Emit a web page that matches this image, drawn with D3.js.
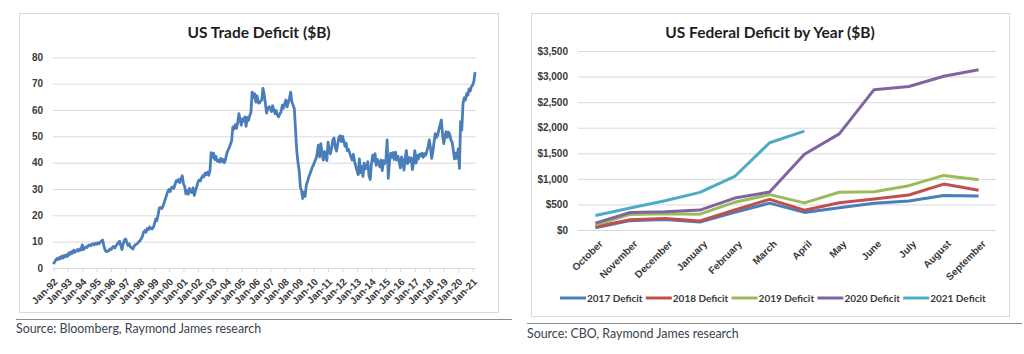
<!DOCTYPE html>
<html lang="en">
<head>
  <meta charset="UTF-8">
  <title>US Trade Deficit and Federal Deficit</title>
  <style>
    body, html {
      margin: 0;
      padding: 0;
      background: #fff;
      font-family: Lato, "Open Sans", Arial, sans-serif;
    }
    #svg { display: block; }
    .tick line { stroke: #d9d9d9; }
    .tick text { font-weight: bold; font-size: 10px; fill: #3a3a3a; }
  </style>
</head>
<body>
  <svg id="svg" width="1024" height="354"></svg>

  <script src="https://cdn.jsdelivr.net/npm/d3@7"></script>
  <script>
    // --- Left chart data: monthly trade deficit ($B), Jan 1992 .. Mar 2021
    const tradeStart = new Date(1992, 0, 1)
    const tradeDeficit = [
      1.5, 2.2, 3.0, 3.6, 3.2, 4.0, 3.5, 4.5, 3.8, 4.8, 4.2, 5.0,        // 1992
      4.5, 5.8, 5.2, 6.2, 5.6, 6.8, 6.0, 6.5, 7.0, 6.4, 7.2, 6.8,        // 1993
      8.8, 7.0, 7.5, 8.0, 7.8, 8.5, 8.8, 8.4, 9.0, 9.2, 8.8, 9.4,        // 1994
      9.0, 9.6, 9.2, 9.8, 10.2, 10.6, 8.5, 6.8, 6.2, 6.4, 6.6, 7.2,      // 1995
      7.0, 7.8, 8.2, 7.6, 8.4, 9.0, 9.6, 10.2, 8.6, 7.0, 9.2, 10.6,      // 1996
      11.0, 9.6, 8.6, 9.2, 8.0, 7.6, 7.2, 8.2, 8.8, 9.0, 9.4, 10.0,      // 1997
      10.4, 11.2, 12.0, 13.6, 14.2, 13.6, 15.0, 14.6, 15.6, 15.0, 14.8, 15.4, // 1998
      16.8, 18.6, 18.0, 20.2, 22.8, 23.0, 22.6, 23.4, 24.8, 26.2, 27.6, 29.0, // 1999
      29.8, 29.0, 30.4, 30.8, 30.2, 31.6, 33.2, 32.8, 33.6, 32.4, 34.0, 35.0, // 2000
      32.0, 31.0, 28.2, 29.4, 28.0, 30.2, 29.0, 28.6, 30.4, 27.6, 29.4, 30.8, // 2001
      32.6, 33.4, 33.0, 34.2, 35.0, 34.6, 36.0, 35.4, 36.4, 35.2, 37.0, 43.8, // 2002
      42.0, 43.6, 41.2, 42.4, 40.6, 41.0, 40.2, 41.6, 40.4, 41.2, 40.0, 41.4, // 2003
      43.6, 44.8, 45.6, 47.0, 48.2, 53.6, 52.8, 54.4, 53.0, 55.2, 58.6, 56.4, // 2004
      54.2, 56.6, 55.8, 57.4, 53.8, 57.2, 56.0, 57.8, 59.0, 66.8, 64.6, 66.2, // 2005
      63.0, 65.4, 62.8, 62.6, 63.4, 63.8, 68.2, 66.0, 62.4, 58.8, 60.4, 61.2, // 2006
      60.8, 59.4, 61.6, 60.2, 58.6, 59.8, 58.0, 57.4, 58.6, 59.2, 61.8, 60.6, // 2007
      62.4, 63.8, 61.2, 62.8, 64.4, 66.8, 63.0, 61.8, 60.6, 52.4, 44.6, 40.2, // 2008
      37.0, 30.6, 29.4, 26.4, 28.8, 27.2, 31.6, 32.8, 34.6, 35.8, 37.0, 38.4, // 2009
      39.2, 40.6, 41.4, 43.6, 46.6, 42.2, 47.2, 43.8, 41.0, 44.2, 42.6, 40.8, // 2010
      47.8, 44.6, 43.4, 45.6, 48.6, 49.4, 46.0, 44.4, 47.0, 49.6, 50.2, 48.0, // 2011
      50.0, 48.4, 46.2, 47.4, 44.6, 45.0, 43.6, 42.2, 41.0, 43.2, 40.4, 38.6, // 2012
      37.0, 35.4, 41.4, 36.2, 38.6, 34.8, 39.8, 37.6, 38.2, 40.4, 35.0, 33.6, // 2013
      39.6, 42.8, 40.6, 43.4, 39.0, 41.2, 40.0, 38.4, 41.0, 37.0, 40.8, 39.6, // 2014
      41.2, 48.6, 34.0, 40.2, 43.6, 42.0, 43.8, 41.2, 44.0, 41.0, 42.4, 40.6, // 2015
      38.0, 42.2, 40.8, 37.2, 41.6, 44.6, 39.6, 42.0, 40.4, 41.8, 37.4, 40.2, // 2016
      44.6, 39.8, 42.8, 41.4, 43.2, 42.6, 43.6, 42.0, 43.4, 42.8, 44.4, 46.0, // 2017
      48.6, 45.6, 41.6, 44.2, 47.8, 51.0, 49.6, 50.4, 52.6, 54.4, 56.2, 50.8, // 2018
      47.2, 50.2, 51.8, 49.6, 51.6, 50.8, 48.6, 47.8, 44.6, 41.4, 43.6, 41.6, // 2019
      45.2, 37.8, 55.6, 52.4, 62.4, 64.6, 63.8, 66.2, 65.6, 68.0, 67.2, 69.0, // 2020
      69.4, 71.0, 74.4                                                   // 2021
    ]
    const tradeYTicks = [0, 10, 20, 30, 40, 50, 60, 70, 80]

    // --- Right chart data: cumulative federal deficit by fiscal month ($B)
    const fiscalMonths = ['October', 'November', 'December', 'January', 'February', 'March',
      'April', 'May', 'June', 'July', 'August', 'September']
    const deficit2017 = [45, 183, 206, 155, 348, 525, 344, 433, 523, 566, 674, 666]
    const deficit2018 = [63, 202, 225, 176, 391, 600, 386, 532, 607, 684, 898, 779]
    const deficit2019 = [100, 305, 319, 310, 544, 691, 531, 738, 747, 867, 1067, 984]
    const deficit2020 = [134, 343, 357, 389, 624, 743, 1481, 1880, 2744, 2807, 3007, 3132]
    const deficit2021 = [284, 429, 573, 736, 1047, 1706, 1932]
    const seriesNames = ['2017 Deficit', '2018 Deficit', '2019 Deficit', '2020 Deficit', '2021 Deficit']
    const seriesColors = ['#4a7ebb', '#c0504d', '#9bbb59', '#8064a2', '#4bacc6']
    const fedYTicks = [0, 500, 1000, 1500, 2000, 2500, 3000, 3500]

    const svg = d3.select('#svg')

    // ================= Left: US Trade Deficit =================
    const left = svg.append('g')

    left.append('rect')
      .attr('x', 19.5).attr('y', 13.5)
      .attr('width', 479).attr('height', 299)
      .attr('fill', '#fff').attr('stroke', '#d9d9d9')

    left.append('text')
      .text('US Trade Deficit ($B)')
      .attr('x', 259).attr('y', 38)
      .attr('text-anchor', 'middle')
      .attr('font-size', 15.5).attr('font-weight', 'bold').attr('fill', '#1e1e1e')

    const tradeData = tradeDeficit.map((v, i) => ({ date: d3.timeMonth.offset(tradeStart, i), value: v }))

    const xTrade = d3.scaleTime()
      .domain([tradeStart, new Date(2021, 0, 1)])
      .range([53.3, 472.7])
    const yTrade = d3.scaleLinear().domain([0, 80]).range([268, 57.3])

    // gridlines + y labels
    left.append('g')
      .attr('transform', 'translate(53,0)')
      .call(d3.axisLeft(yTrade).tickValues(tradeYTicks).tickSize(-423).tickPadding(10))
      .call(g => g.select('.domain').remove())

    // x axis with yearly ticks
    left.append('g')
      .attr('transform', 'translate(0,268)')
      .call(d3.axisBottom(xTrade)
        .ticks(d3.timeYear.every(1))
        .tickFormat(d3.timeFormat('%b-%y'))
        .tickSize(4))
      .call(g => g.select('.domain').remove())
      .call(g => g.selectAll('text')
        .attr('x', 0).attr('y', 0).attr('dy', '0.35em')
        .attr('font-size', 9)
        .attr('text-anchor', 'end')
        .attr('transform', 'translate(2,12) rotate(-45)'))

    left.append('path')
      .datum(tradeData)
      .attr('fill', 'none')
      .attr('stroke', '#4a7ebb')
      .attr('stroke-width', 2.8)
      .attr('stroke-linejoin', 'round')
      .attr('d', d3.line().x(d => xTrade(d.date)).y(d => yTrade(d.value)))

    // ================= Right: US Federal Deficit =================
    const right = svg.append('g')

    right.append('rect')
      .attr('x', 531.5).attr('y', 13.5)
      .attr('width', 478).attr('height', 303)
      .attr('fill', '#fff').attr('stroke', '#d9d9d9')

    right.append('text')
      .text('US Federal Deficit by Year ($B)')
      .attr('x', 770).attr('y', 38)
      .attr('text-anchor', 'middle')
      .attr('font-size', 15.5).attr('font-weight', 'bold').attr('fill', '#1e1e1e')

    const xFed = d3.scalePoint().domain(fiscalMonths).range([578, 996]).padding(0.5)
    const yFed = d3.scaleLinear().domain([0, 3500]).range([230, 51])

    right.append('g')
      .attr('transform', 'translate(578,0)')
      .call(d3.axisLeft(yFed).tickValues(fedYTicks).tickSize(-418).tickPadding(10)
        .tickFormat(d3.format('$,')))
      .call(g => g.select('.domain').remove())

    right.append('g')
      .attr('transform', 'translate(0,230)')
      .call(d3.axisBottom(xFed).tickSize(0))
      .call(g => g.select('.domain').remove())
      .call(g => g.selectAll('text')
        .attr('x', 0).attr('y', 0).attr('dy', '0.35em')
        .attr('text-anchor', 'end')
        .attr('transform', 'translate(5,12) rotate(-45)'))

    const fedSeries = [deficit2017, deficit2018, deficit2019, deficit2020, deficit2021]
    const fedLine = d3.line()
      .x((d, i) => xFed(fiscalMonths[i]))
      .y(d => yFed(d))

    right.selectAll('path.series')
      .data(fedSeries)
      .enter()
      .append('path')
      .attr('class', 'series')
      .attr('fill', 'none')
      .attr('stroke', (d, i) => seriesColors[i])
      .attr('stroke-width', 3)
      .attr('stroke-linejoin', 'round')
      .attr('d', fedLine)

    // legend
    const legend = right.append('g').attr('transform', 'translate(560,298)')
    const items = legend.selectAll('g')
      .data(seriesNames)
      .enter()
      .append('g')
      .attr('transform', (d, i) => `translate(${i * 85.8},0)`)
    items.append('line')
      .attr('x1', 0).attr('x2', 26)
      .attr('stroke', (d, i) => seriesColors[i])
      .attr('stroke-width', 3)
    items.append('text')
      .text(d => d)
      .attr('x', 27).attr('dy', '0.35em')
      .attr('font-size', 10).attr('font-weight', 'bold').attr('fill', '#3a3a3a')

    // ================= separators and sources =================
    svg.append('line')
      .attr('x1', 16).attr('x2', 512).attr('y1', 319.5).attr('y2', 319.5)
      .attr('stroke', '#8c8c8c')
    svg.append('text')
      .text('Source: Bloomberg, Raymond James research')
      .attr('x', 16).attr('y', 333)
      .attr('font-size', 12.4).attr('fill', '#37424f')

    svg.append('line')
      .attr('x1', 527).attr('x2', 1022).attr('y1', 323.5).attr('y2', 323.5)
      .attr('stroke', '#8c8c8c')
    svg.append('text')
      .text('Source: CBO, Raymond James research')
      .attr('x', 527).attr('y', 338)
      .attr('font-size', 12.4).attr('fill', '#37424f')
  </script>
</body>
</html>
